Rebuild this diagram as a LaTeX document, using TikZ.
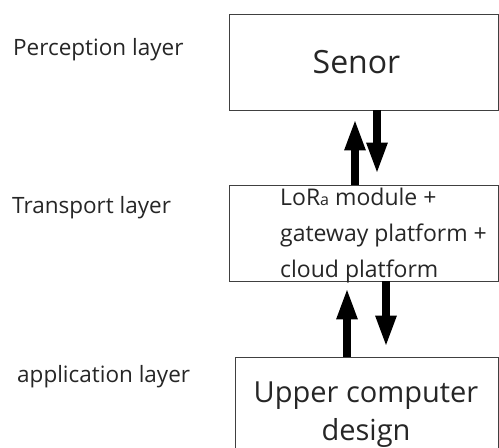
\documentclass[tikz,border=0pt]{standalone}
\usepackage{fontspec}
\setmainfont{Open Sans}
\usetikzlibrary{arrows.meta}
\begin{document}
\begin{tikzpicture}[x=1pt,y=-1pt,
  box/.style={draw=black!75,line width=0.9pt,rectangle,inner sep=0pt},
  lbl/.style={anchor=base west,inner sep=0pt,font=\fontsize{22.5}{26}\selectfont,text=black!85},
  arr/.style={line width=8.5pt,-{Triangle[width=19pt,length=32pt]}}]
\clip (0,0) rectangle (499,448);
\fill[white] (0,0) rectangle (499,448);
% boxes
\node[box,minimum width=269pt,minimum height=96pt,font=\fontsize{32}{36}\selectfont,text=black!85] (senor) at (363.5,62) {Senor\hspace*{14pt}};
\node[box,minimum width=269pt,minimum height=96pt] (lora) at (363.5,233) {};
\node[box,minimum width=263pt,minimum height=130pt] (upper) at (366.5,422) {};
% texts
\node[anchor=base west,inner sep=0pt,align=left,font=\fontsize{23}{36}\selectfont,text=black!85] (loratext) at (280,277)
  {LoR{\fontsize{16}{16}\selectfont a} module +\\gateway platform +\\cloud platform};
\node[anchor=base,inner sep=0pt,align=center,font=\fontsize{29}{38}\selectfont,text=black!85] (uppertext) at (366,440)
  {Upper computer\\design};
\node[lbl] (perc) at (13,55) {Perception layer};
\node[lbl] (trans) at (12,213) {Transport layer};
\node[lbl] (appl) at (17,382) {application layer};
% arrow positions
\coordinate (c1) at (355,0);
\coordinate (c2) at (377,0);
\coordinate (c3) at (347,0);
\coordinate (c4) at (386,0);
\draw[arr,shorten >=8pt] (c1 |- lora.north) -- (c1 |- senor.south);
\draw[arr,shorten >=10pt] (c2 |- senor.south) -- (c2 |- lora.north);
\draw[arr,shorten >=6pt] (c3 |- upper.north) -- (c3 |- lora.south);
\draw[arr,shorten >=9pt] (c4 |- lora.south) -- (c4 |- upper.north);
\end{tikzpicture}
\end{document}
